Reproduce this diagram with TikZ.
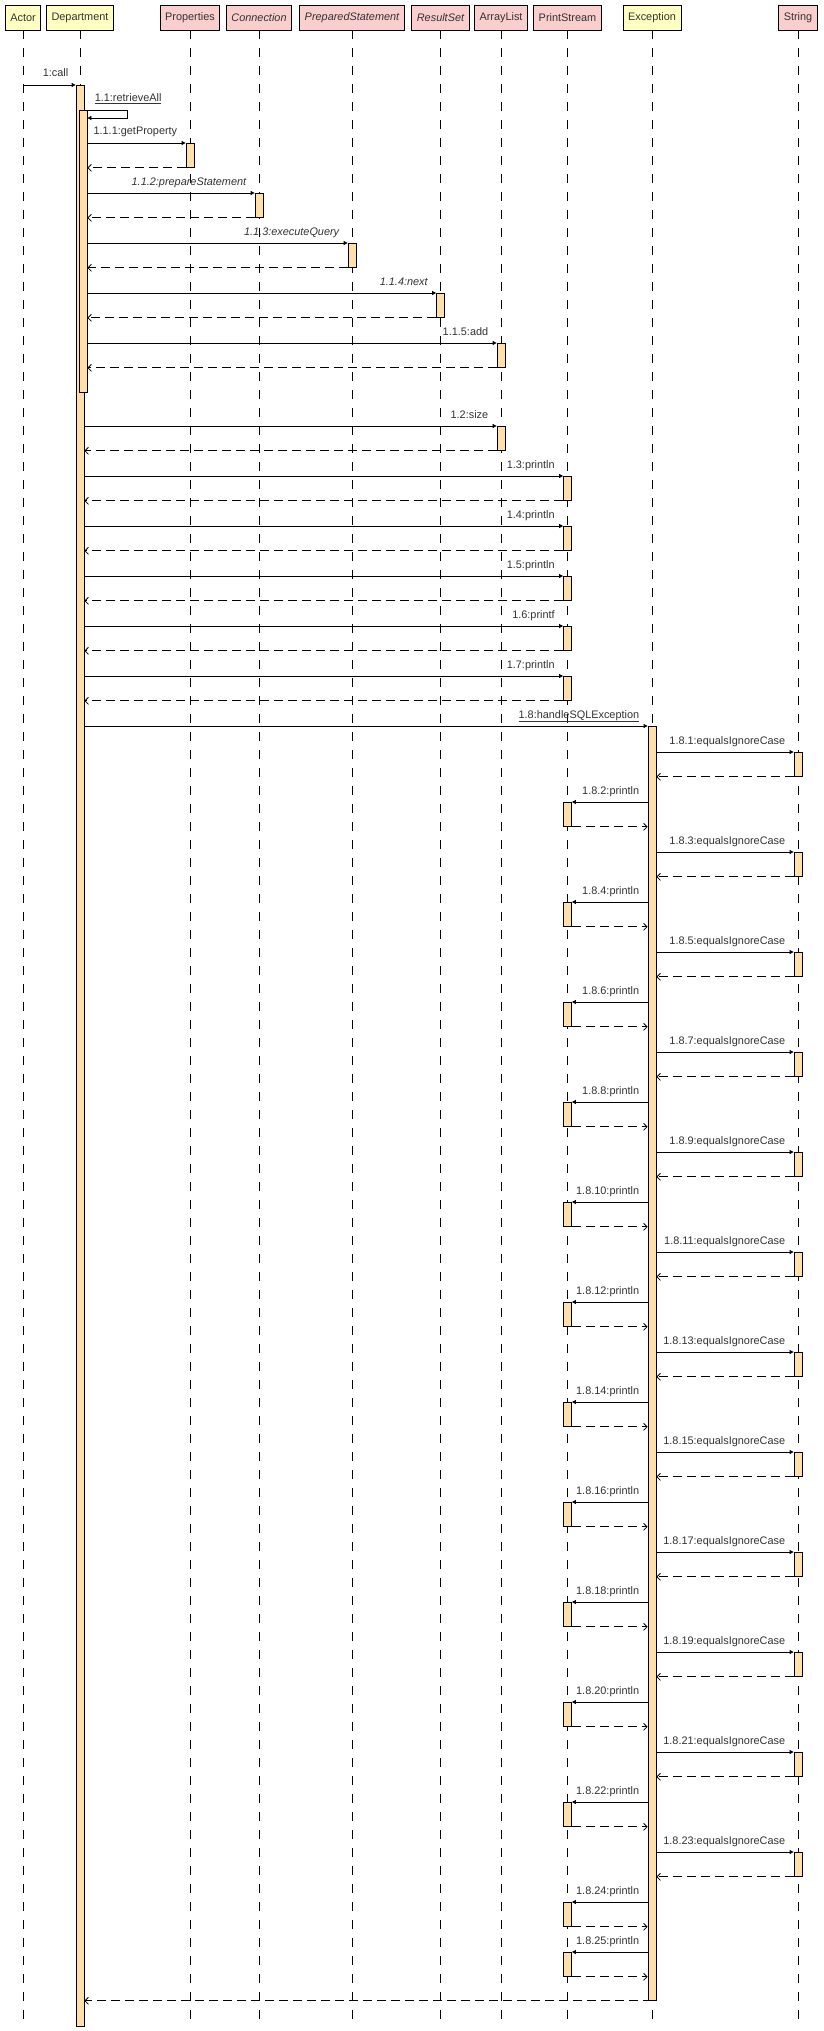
\documentclass[tikz,border=0pt]{standalone}
\usepackage{fontspec}
\setmainfont{Liberation Sans}
\usetikzlibrary{arrows.meta}
\definecolor{hdryellow}{RGB}{255,255,194}
\definecolor{hdrpink}{RGB}{249,206,205}
\definecolor{actfill}{RGB}{255,224,168}
\definecolor{inkgray}{RGB}{51,51,51}

% one call from Exception to String and its reply
\newcommand{\excequals}[1]{%
  \pgfmathsetmacro\yy{752+50*(#1-1)}%
  \node[act] (e#1) at (str |- 0,\yy) {};
  \draw[call] (exc0.east |- e#1.north) -- (e#1.north west)
    node[lbl,pos=1] {1.8.#1:equalsIgnoreCase};
  \draw[ret] (e#1.south west) -- (exc0.east |- e#1.south west);
}
% one call from Exception to PrintStream and its reply
\newcommand{\excprint}[1]{%
  \pgfmathsetmacro\yy{752+50*(#1-1)}%
  \node[act] (e#1) at (pstream |- 0,\yy) {};
  \draw[call] (exc0.west |- e#1.north) -- (e#1.north east)
    node[lbl,pos=0] {1.8.#1:println};
  \draw[ret] (e#1.south east) -- (exc0.west |- e#1.south east);
}

\begin{document}
\begin{tikzpicture}[x=1pt,y=-1pt,
  font=\fontsize{10.9}{13}\selectfont,
  obj/.style={draw, line width=0.8pt, minimum height=25pt, inner xsep=5pt, inner ysep=0pt, text=inkgray},
  actorobj/.style={obj, fill=hdryellow},
  classobj/.style={obj, fill=hdrpink},
  lifeline/.style={line width=0.9pt, dash pattern=on 9pt off 9pt},
  act/.style={draw, line width=0.8pt, fill=actfill, minimum width=8pt, minimum height=24pt, inner sep=0pt, anchor=north},
  call/.style={line width=0.8pt, -{Triangle[length=4pt,width=4pt]}},
  ret/.style={line width=0.8pt, dash pattern=on 9pt off 5pt, -{Straight Barb[length=3.5pt,width=7pt]}},
  lbl/.style={text=inkgray, inner sep=0pt, anchor=base east, xshift=-8pt, yshift=8pt}
]
\useasboundingbox (0,0) rectangle (823,2031);
\fill[white] (0,0) rectangle (823,2031);

% object headers
\node[actorobj] (actor)   at (23,17.5)    {Actor};
\node[actorobj] (dept)    at (80,17.5)    {Department};
\node[classobj] (props)   at (190,17.5)   {Properties};
\node[classobj] (conn)    at (259,17.5)   {\itshape Connection};
\node[classobj] (pstmt)   at (352,17.5)   {\itshape PreparedStatement};
\node[classobj] (rset)    at (440.5,17.5) {\itshape ResultSet};
\node[classobj] (alist)   at (501,17.5)   {ArrayList};
\node[classobj] (pstream) at (567.5,17.5) {PrintStream};
\node[actorobj] (exc)     at (652,17.5)   {Exception};
\node[classobj] (str)     at (798,17.5)   {String};

% lifelines
\coordinate (bottom) at (0,2022);
\foreach \n in {actor,dept,props,conn,pstmt,rset,alist,pstream,exc,str}
  \draw[lifeline] (\n.south) -- (\n.south |- bottom);

% Department activations
\node[act, minimum height=1941pt] (dep0) at (dept |- 0,85) {};
\node[act, minimum height=282pt] (dep1) at ([xshift=3pt]dept.center |- 0,110) {};

% 1:call
\draw[call] (actor |- dep0.north) -- (dep0.north west)
  node[lbl,pos=1,xshift=1pt] {1:call};

% 1.1:retrieveAll (self call)
\draw[call] (dep0.east |- dep1.north)
  node[inner sep=0pt, anchor=base west, xshift=10pt, yshift=8pt, text=inkgray] {\underline{1.1:retrieveAll}}
  -- ++(43,0) |- ([yshift=-8pt]dep1.north east);

% calls made inside retrieveAll
\foreach \i/\n/\y/\txt/\f in {1/props/143/1.1.1:getProperty/\upshape,
                              2/conn/193/1.1.2:prepareStatement/\itshape,
                              3/pstmt/243/1.1.3:executeQuery/\itshape,
                              4/rset/293/1.1.4:next/\itshape,
                              5/alist/343/1.1.5:add/\upshape}{
  \node[act] (a\i) at (\n |- 0,\y) {};
  \draw[call] (dep1.east |- a\i.north) -- (a\i.north west)
    node[lbl,pos=1] {\f\txt};
  \draw[ret] (a\i.south west) -- (dep1.east |- a\i.south west);
}

% calls 1.2 to 1.7
\foreach \i/\n/\y/\txt in {2/alist/426/1.2:size,
                           3/pstream/476/1.3:println,
                           4/pstream/526/1.4:println,
                           5/pstream/576/1.5:println,
                           6/pstream/626/1.6:printf,
                           7/pstream/676/1.7:println}{
  \node[act] (b\i) at (\n |- 0,\y) {};
  \draw[call] (dep0.east |- b\i.north) -- (b\i.north west)
    node[lbl,pos=1] {\txt};
  \draw[ret] (b\i.south west) -- (dep0.east |- b\i.south west);
}

% 1.8:handleSQLException
\node[act, minimum height=1274pt] (exc0) at (exc |- 0,726) {};
\draw[call] (dep0.east |- exc0.north) -- (exc0.north west)
  node[lbl,pos=1] {\underline{1.8:handleSQLException}};

\foreach \k in {1,3,...,23} {\excequals{\k}}
\foreach \k in {2,4,...,24} {\excprint{\k}}
\excprint{25}

% reply of 1:call
\draw[ret] (exc0.south) -- (dep0.east |- exc0.south);
\end{tikzpicture}
\end{document}
